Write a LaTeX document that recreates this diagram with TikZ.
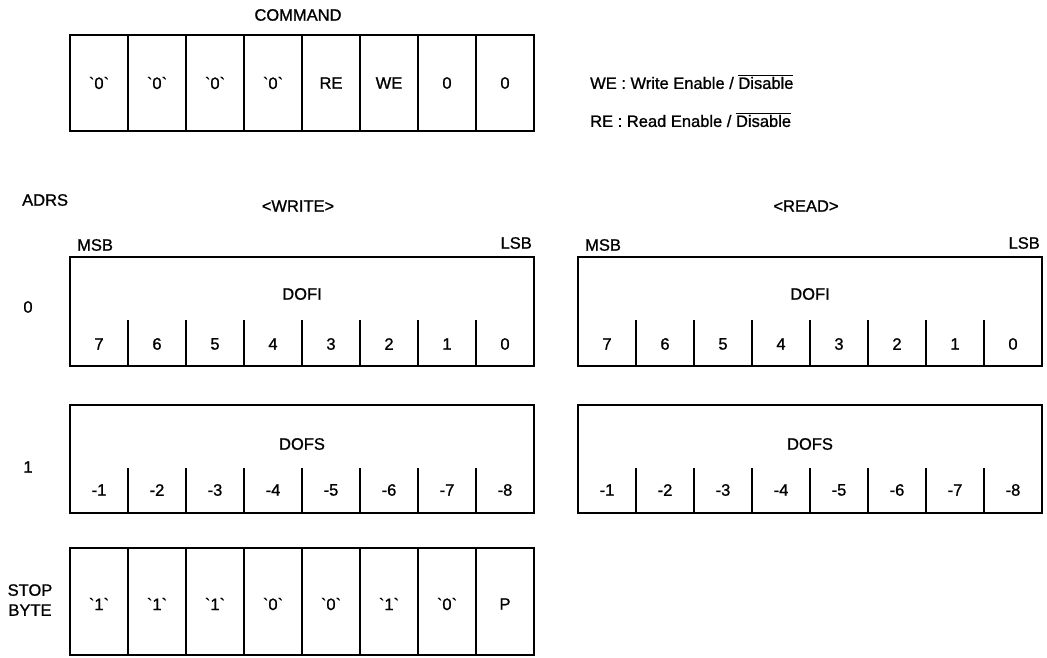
\documentclass[tikz,border=0pt]{standalone}
\usepackage{fontspec}
\newfontfamily\diagfont{Liberation Sans}[FakeBold=1]
\begin{document}
\begin{tikzpicture}[x=1pt, y=-1pt, font=\diagfont\fontsize{16.5}{20}\selectfont,
  regbox/.style={line width=1.8pt},
  cellline/.style={line width=1.4pt},
  lbl/.style={inner sep=0pt}]
  \useasboundingbox (0,0) rectangle (1047,657);

  % command byte
  \node[lbl] (cmdtitle) at (298,15) {COMMAND};
  \draw[regbox] (70,35) rectangle (534,131);
  \foreach \i in {1,...,7} \draw[cellline] ({70+\i*58},35) -- ({70+\i*58},131);
  \foreach \t [count=\i] in {`0`,`0`,`0`,`0`,RE,WE,0,0}
    \node[lbl] (cmd\i) at ({70+(\i-0.5)*58},83) {\t};

  % legend
  \node[lbl, anchor=west] (welegend) at (590,82) {WE : Write Enable / $\overline{\mbox{Disable}}$};
  \node[lbl, anchor=west] (relegend) at (590,120) {RE : Read Enable / $\overline{\mbox{Disable}}$};

  % addresses
  \node[lbl, anchor=west] (adrs) at (22,200) {ADRS};
  \node[lbl] (adrs0) at (28,307) {0};
  \node[lbl] (adrs1) at (28,467) {1};
  \node[lbl, align=center] (stopbyte) at (30,600) {STOP\\BYTE};

  % write / read registers
  \foreach \x/\s/\t in {70/w/{<WRITE>}, 578/r/{<READ>}} {
    \node[lbl] (title\s) at ({\x+228},206) {\t};
    \node[lbl, anchor=west] (msb\s) at ({\x+7},245) {MSB};
    \node[lbl, anchor=east] (lsb\s) at ({\x+462},243) {LSB};
    % DOFI
    \draw[regbox] (\x,257) rectangle ({\x+464},366);
    \node[lbl] (dofi\s) at ({\x+232},294) {DOFI};
    \foreach \i in {1,...,7} \draw[cellline] ({\x+\i*58},320) -- ({\x+\i*58},366);
    \foreach \b [count=\i] in {7,6,5,4,3,2,1,0}
      \node[lbl] (dofi\s\i) at ({\x+(\i-0.5)*58},344) {\b};
    % DOFS
    \draw[regbox] (\x,405) rectangle ({\x+464},513);
    \node[lbl] (dofs\s) at ({\x+232},444) {DOFS};
    \foreach \i in {1,...,7} \draw[cellline] ({\x+\i*58},468) -- ({\x+\i*58},513);
    \foreach \b [count=\i] in {-1,-2,-3,-4,-5,-6,-7,-8}
      \node[lbl] (dofs\s\i) at ({\x+(\i-0.5)*58},490) {\b};
  }

  % stop byte
  \draw[regbox] (70,548) rectangle (534,655);
  \foreach \i in {1,...,7} \draw[cellline] ({70+\i*58},548) -- ({70+\i*58},655);
  \foreach \t [count=\i] in {`1`,`1`,`1`,`0`,`0`,`1`,`0`,P}
    \node[lbl] (stop\i) at ({70+(\i-0.5)*58},604) {\t};
\end{tikzpicture}
\end{document}
